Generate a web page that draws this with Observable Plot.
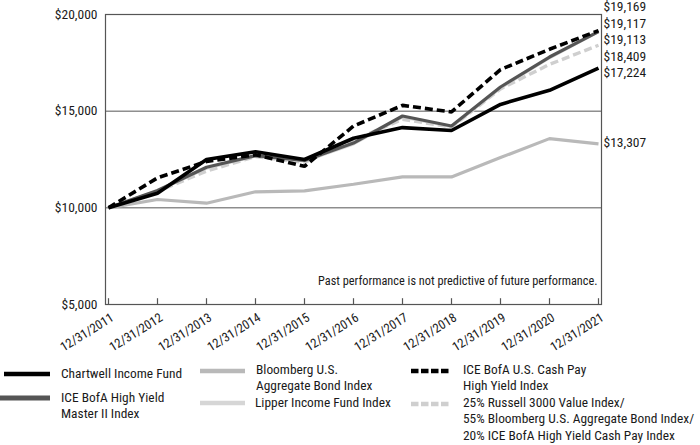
<!DOCTYPE html>
<html>
<head>
<meta charset="utf-8">
<script src="https://cdn.jsdelivr.net/npm/d3@7"></script>
<script src="https://cdn.jsdelivr.net/npm/@observablehq/plot@0.6"></script>
<style>
  html, body { margin: 0; padding: 0; background: #fff; }
  body { width: 700px; height: 445px; overflow: hidden;
         font-family: "Roboto Condensed", "Liberation Sans Narrow", "DejaVu Sans Condensed", "Arial Narrow", sans-serif;
         font-stretch: condensed; color: #1a1a1a; }
  #legend { position: relative; width: 700px; height: 85px; font-size: 13.4px; }
  #legend .sw { position: absolute; }
  #legend .tx { position: absolute; line-height: 16.5px; white-space: nowrap; }
</style>
</head>
<body>
<div id="chart"></div>
<div id="legend"></div>
<script>
// ---- data ----
const dates = ["12/31/2011","12/31/2012","12/31/2013","12/31/2014","12/31/2015","12/31/2016","12/31/2017","12/31/2018","12/31/2019","12/31/2020","12/31/2021"];
const chartwell  = [10000, 10750, 12500, 12900, 12500, 13600, 14150, 14000, 15350, 16080, 17224];
const iceHYMaster = [10000, 10900, 12100, 12700, 12450, 13350, 14750, 14230, 16250, 17800, 19117];
const iceCashPay = [10000, 11550, 12400, 12740, 12150, 14230, 15300, 14960, 17150, 18200, 19169];
const bloombergAgg = [10000, 10430, 10240, 10830, 10880, 11220, 11600, 11600, 12600, 13580, 13307];
const lipperIncome = [10000, 10880, 12050, 12680, 12420, 13300, 14700, 14200, 16200, 17760, 19113];
const blendIndex = [10000, 10850, 11900, 12650, 12350, 13500, 14580, 14180, 16150, 17420, 18409];
const yTicks = [5000, 10000, 15000, 20000];
const gridTicks = [10000, 15000, 20000];
const note = "Past performance is not predictive of future performance.";

const seriesNames = [
  "Bloomberg U.S. Aggregate Bond Index",
  "Lipper Income Fund Index",
  "25% Russell 3000 Value Index/55% Bloomberg U.S. Aggregate Bond Index/20% ICE BofA High Yield Cash Pay Index",
  "ICE BofA High Yield Master II Index",
  "Chartwell Income Fund",
  "ICE BofA U.S. Cash Pay High Yield Index"
];
const seriesValues = [bloombergAgg, lipperIncome, blendIndex, iceHYMaster, chartwell, iceCashPay];
const seriesStyle = [
  {stroke: "#b9b9b9", strokeWidth: 3.2, dash: null},
  {stroke: "#d6d6d6", strokeWidth: 3.0, dash: null},
  {stroke: "#cfcfcf", strokeWidth: 3.4, dash: "8,4"},
  {stroke: "#555555", strokeWidth: 3.2, dash: null},
  {stroke: "#000000", strokeWidth: 3.6, dash: null},
  {stroke: "#000000", strokeWidth: 3.6, dash: "8,4"}
];

// ---- layout ----
const W = 700, H = 360, mt = 14, mb = 56, ml = 105, mr = 99;
const yDomain = [5000, 20000];
const fmt = d3.format("$,");

// end-label dodge (in pixel space using same mapping as the y scale)
const yPix = d3.scaleLinear().domain(yDomain).range([H - mb, mt]);
const ends = seriesValues.map((v) => v[v.length - 1]);
const order = d3.range(ends.length).sort((a, b) => ends[b] - ends[a]);
const gap = 16.4;
let clusters = order.map((i) => ({members: [i], target: yPix(ends[i])}));
clusters.forEach((c) => { c.pos = c.target; });
let merged = true;
while (merged) {
  merged = false;
  for (let k = 0; k < clusters.length - 1; k++) {
    const a = clusters[k], b = clusters[k + 1];
    const aBottom = a.pos + (a.members.length - 1) * gap / 2;
    const bTop = b.pos - (b.members.length - 1) * gap / 2;
    if (bTop - aBottom < gap) {
      const members = a.members.concat(b.members);
      const target = d3.mean(members, (i) => yPix(ends[i]));
      clusters.splice(k, 2, {members, target, pos: target});
      merged = true;
      break;
    }
  }
}
const labelDy = {};
clusters.forEach((c) => {
  c.members.forEach((i, j) => {
    const p = c.pos + (j - (c.members.length - 1) / 2) * gap;
    labelDy[i] = p - yPix(ends[i]);
  });
});

const lineMarks = seriesValues.map((vals, s) =>
  Plot.line(dates.map((d, i) => ({date: d, value: vals[i]})), {
    x: "date", y: "value",
    stroke: seriesStyle[s].stroke,
    strokeWidth: seriesStyle[s].strokeWidth,
    strokeDasharray: seriesStyle[s].dash,
    strokeLinejoin: "miter",
    strokeLinecap: "butt"
  })
);

const endLabelMarks = seriesValues.map((vals, s) =>
  Plot.text([{date: dates[dates.length - 1], value: vals[vals.length - 1]}], {
    x: "date", y: "value", text: (d) => fmt(d.value),
    dx: 5, dy: labelDy[s] - 1.5, textAnchor: "start", fontSize: 13.5, fill: "#1a1a1a"
  })
);

const chart = Plot.plot({
  width: W, height: H,
  marginTop: mt, marginBottom: mb, marginLeft: ml, marginRight: mr,
  style: {fontFamily: "inherit", fontSize: "13.5px", background: "#fff", color: "#1a1a1a", overflow: "visible"},
  x: {type: "point", domain: dates, padding: 0, label: null},
  y: {domain: yDomain, label: null},
  marks: [
    Plot.ruleY(gridTicks, {stroke: "#555", strokeWidth: 1}),
    Plot.frame({stroke: "#555", strokeWidth: 1.2}),
    Plot.ruleX(dates, {y1: 5000, y2: 5300, stroke: "#555", strokeWidth: 1.2}),
    ...lineMarks,
    ...endLabelMarks,
    Plot.text([note], {frameAnchor: "bottom-right", dx: -4, dy: -23, lineAnchor: "middle", textAnchor: "end", fontSize: 12.3, fill: "#1a1a1a"}),
    Plot.axisY({ticks: yTicks, tickFormat: fmt, tickSize: 0, tickPadding: 8, label: null, fontSize: 13.5}),
    Plot.axisX({tickSize: 0, tickPadding: 12, dx: 4, tickRotate: -32, label: null, fontSize: 12.8})
  ]
});
document.getElementById("chart").appendChild(chart);

// ---- legend (HTML below the svg) ----
const legendItems = [
  {s: 4, sx: 4, sw: 46, sy: 14, tx: 61, ty: 14, lines: ["Chartwell Income Fund"], lw: 4.5},
  {s: 3, sx: 0, sw: 50, sy: 38, tx: 61, ty: 38, lines: ["ICE BofA High Yield", "Master II Index"], lw: 5},
  {s: 0, sx: 200, sw: 45, sy: 11, tx: 256, ty: 10, lines: ["Bloomberg U.S.", "Aggregate Bond Index"], lw: 4.5},
  {s: 1, sx: 200, sw: 45, sy: 43, tx: 255, ty: 43, lines: ["Lipper Income Fund Index"], lw: 4.5},
  {s: 5, sx: 411, sw: 39, sy: 11, tx: 463, ty: 10, lines: ["ICE BofA U.S. Cash Pay", "High Yield Index"], lw: 4.5},
  {s: 2, sx: 411, sw: 39, sy: 44, tx: 463, ty: 43, lines: ["25% Russell 3000 Value Index/", "55% Bloomberg U.S. Aggregate Bond Index/", "20% ICE BofA High Yield Cash Pay Index"], lw: 4.5}
];
const legend = d3.select("#legend");
legendItems.forEach((it) => {
  const st = seriesStyle[it.s];
  const svg = legend.append("svg").attr("class", "sw")
    .attr("width", it.sw).attr("height", 10)
    .style("left", it.sx + "px").style("top", (it.sy - 5) + "px");
  svg.append("line").attr("x1", 0).attr("x2", it.sw).attr("y1", 5).attr("y2", 5)
    .attr("stroke", st.stroke).attr("stroke-width", it.lw)
    .attr("stroke-dasharray", st.dash ? "7.5,2.5" : null);
  legend.append("div").attr("class", "tx")
    .style("left", it.tx + "px").style("top", (it.ty - 8.25) + "px")
    .html(it.lines.join("<br>"));
});
</script>
</body>
</html>
